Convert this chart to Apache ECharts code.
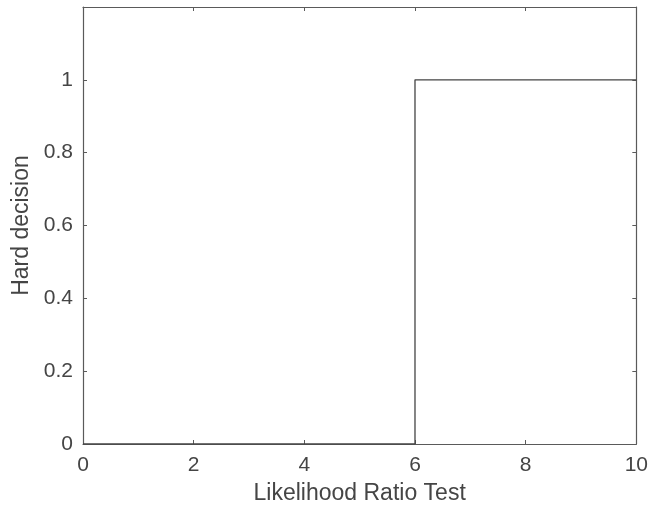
<!DOCTYPE html>
<html>
<head>
<meta charset="utf-8">
<script src="https://cdn.jsdelivr.net/npm/echarts@6/dist/echarts.min.js"></script>
<style>html,body{margin:0;padding:0;background:#fff;}#c{width:651px;height:511px;}</style>
</head>
<body>
<div id="c"></div>
<script>
var decisionX = [0, 6, 6, 10];
var decisionY = [0, 0, 1, 1];
var xTicks = [0, 2, 4, 6, 8, 10];
var yTicks = [0, 0.2, 0.4, 0.6, 0.8, 1];

var axisColor = '#5a5a5a';
var textColor = '#454545';
var font = 'Liberation Sans, Arial, sans-serif';

var chart = echarts.init(document.getElementById('c'), null, {renderer: 'canvas'});
var pts = decisionX.map(function (x, i) { return [x, decisionY[i]]; });

function fmtY(v) {
  var r = Math.round(v * 10) / 10;
  return yTicks.indexOf(r) >= 0 ? String(r) : '';
}
function fmtX(v) {
  return xTicks.indexOf(v) >= 0 ? String(v) : '';
}

var baseAxis = {
  axisLine: {show: true, onZero: false, lineStyle: {color: axisColor, width: 1.2}},
  axisTick: {show: true, inside: true, length: 4, lineStyle: {color: axisColor}},
  splitLine: {show: false}
};

chart.setOption({
  animation: false,
  backgroundColor: '#fff',
  grid: {left: 83, right: 13, top: 7, bottom: 67, containLabel: false},
  xAxis: [
    Object.assign({}, baseAxis, {
      type: 'value', min: 0, max: 10, interval: 2, position: 'bottom',
      name: 'Likelihood Ratio Test', nameLocation: 'middle', nameGap: 38,
      nameTextStyle: {color: textColor, fontSize: 23, fontFamily: font},
      axisLabel: {color: textColor, fontSize: 21, fontFamily: font, margin: 11, formatter: fmtX}
    }),
    Object.assign({}, baseAxis, {
      type: 'value', min: 0, max: 10, interval: 2, position: 'top',
      axisLabel: {show: false}
    })
  ],
  yAxis: [
    Object.assign({}, baseAxis, {
      type: 'value', min: 0, max: 1.2, interval: 0.2, position: 'left',
      name: 'Hard decision', nameLocation: 'middle', nameGap: 50,
      nameTextStyle: {color: textColor, fontSize: 23, fontFamily: font},
      axisLabel: {color: textColor, fontSize: 21, fontFamily: font, margin: 10, formatter: fmtY}
    }),
    Object.assign({}, baseAxis, {
      type: 'value', min: 0, max: 1.2, interval: 0.2, position: 'right',
      axisLabel: {show: false}
    })
  ],
  series: [{
    type: 'line',
    data: pts,
    showSymbol: false,
    symbol: 'none',
    lineStyle: {color: '#444', width: 1.3},
    silent: true
  }]
});
</script>
</body>
</html>
